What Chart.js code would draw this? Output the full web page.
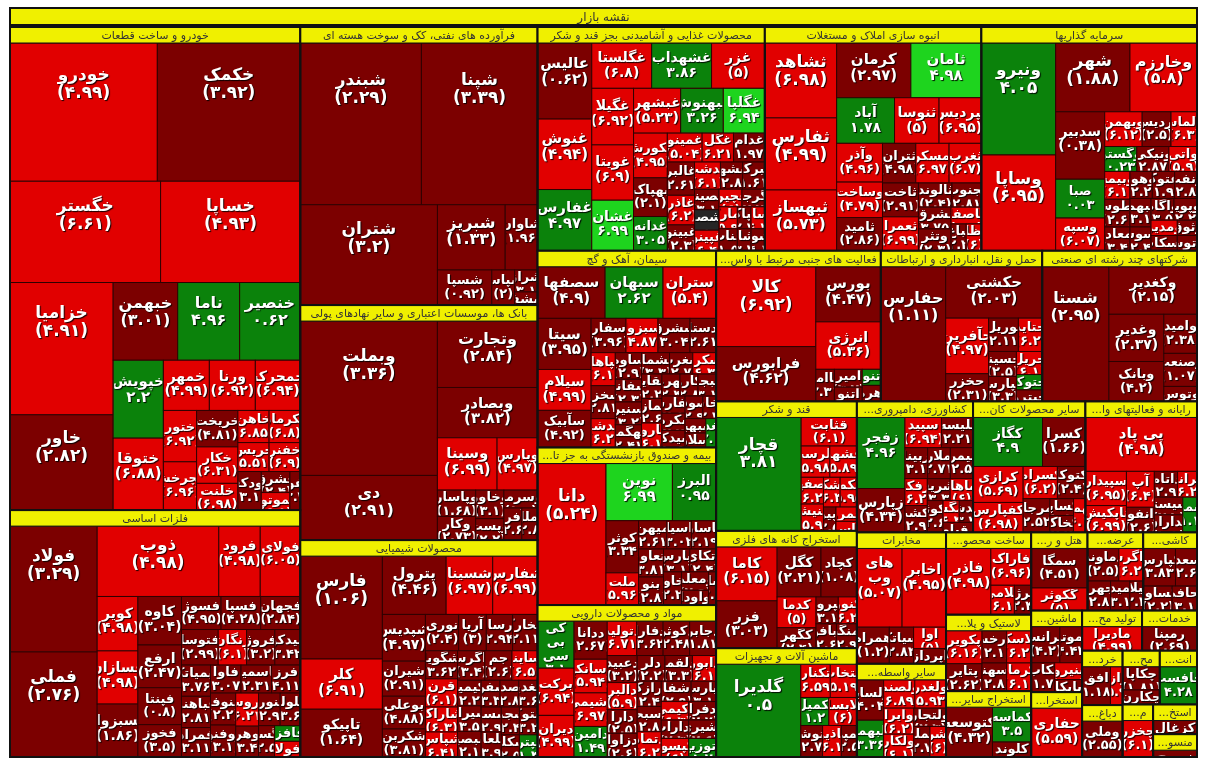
<!DOCTYPE html>
<html lang="fa">
<head>
<meta charset="UTF-8">
<title>نقشه بازار</title>
<script src="https://cdn.jsdelivr.net/npm/chart.js@4.4.1/dist/chart.umd.min.js"></script>
<style>
  body { margin:0; background:#ffffff; }
  #map { display:block; }
</style>
</head>
<body>
<canvas id="map" width="1206" height="764"></canvas>
<script>
// ---- data: [symbol, market value, close change %, (last change % used for colour)] ----
const titleText = 'نقشه بازار';

const autoStocks = [
  ['خودرو',203,-4.99],['خکمک',197,-3.92],['خگستر',152,-6.61],['خساپا',141,-4.93],['خزامیا',136,-4.91],
  ['خاور',98,-2.82],['خبهمن',50,-3.01],['ناما',48,4.96],['خنصیر',47,0.62],['خپویش',39,2.2],['ختوقا',36,-6.88],
  ['خمهر',23,-4.99],['ورنا',23,-6.92],['خمحرکه',22.5,-6.94],['ختور',17,-6.92],['خچرخش',16,-6.96],['خریخت',15,-4.81,-1.5],
  ['خکار',15,-6.31],['خلنت',11,-6.98],['خاهن',10,-6.85],['خکرمان',10,-6.8],['خریس',9,-5.51],['خفنر',9,-6.9],
  ['خودکفا',9,-3.1],['خشرق',6,-2.4],['خموتور',5,-6.5],['خفولا',4,-3.3]
];
const metalStocks = [
  ['فولاد',109,-3.29],['فملی',91,-2.76],['ذوب',85,-4.98],['فرود',29,-4.98],['فولای',28,-6.05],['کویر',22,-4.98],
  ['فسازان',21.5,-4.98],['فسبزوار',21.4,-1.86],['کاوه',21,-3.04],['ارفع',18.5,-2.47],['فپنتا',16,-0.8],['فخوز',14,-3.5],
  ['فسوژ',13,-4.95,-3],['فسپا',13,-4.28],['فجهان',13,-2.84],['فتوسا',13,-2.99],['زنگان',10,-6.1],['فروژ',10,-3.2],
  ['میدکو',9,-3.42],['کیمیاتک',9,-3.76],['فباهنر',9,-2.81],['فمراد',8.5,-3.11],['فآوا',8.5,-3.07],['فاسمین',8.5,-2.31],
  ['فرز',8,-4.11],['فنوفر',8,-2.2],['توفنو',8,-3.1],['فروس',7.5,-6.21],['وهر',7,-3.4],['فنورد',7,-2.9],
  ['فلوله',6.5,-3.6],['فگستر',5,-2.5],['فافزا',4,1.2],['فولا',4,-6.2]
];
const oilStocks = [
  ['شبندر',195,-2.29],['شپنا',187,-3.39],['شتران',137,-3.2],['شبریز',44,-1.33],['شاوان',21,-1.96],
  ['شسپا',19,-0.92],['شپاس',8,-2],['شراز',5,-3.1],['ششفا',3,-2.5]
];
const bankStocks = [
  ['وبملت',210,-3.36],['دی',88,-2.91],['وتجارت',66,-2.84],['وبصادر',50,-3.82],['وسینا',31,-6.99],['وپارس',21,-4.97],
  ['وپاسار',10,-1.68],['وکار',9,-2.73],['وخاور',8,-3.1],['وپست',6,-2.2],['وسرمد',6,-1.9],['وآفری',5.7,-2.6],['وملل',5,-2.8]
];
const chemStocks = [
  ['فارس',84,-1.06],['کلر',41,-6.91],['تاپیکو',39,-1.64],['پترول',37,-4.46],['شسینا',27,-6.97],['شفارس',26,-6.99],
  ['شپدیس',20,-4.97,-3],['شیران',15,-2.91],['بوعلی',14,-4.88],['شکربن',12,-3.81],['نوری',12,-2.4],['آریا',10,-3],
  ['پارسان',9.5,-2.94],['شخارک',9,-2.11],['شگویا',9,-3.62],['قرن',9,-6.1],['شاراک',8,-6.3],['شپاس',8,-6.41],
  ['زاگرس',8,-3.4],['جم',8,-2.6],['ساینا',7.5,-6.5],['کیمیا',6,-2.2],['شیراز',6,-3.5],['شبصیر',6,-2.1],['شفن',5,-3.3],
  ['شصدف',5,-2.8],['شغدیر',5,-3.6],['شسم',5,-2.9],['شلعاب',5,-3.9],['شجم',5,-2.4],['شتوکا',5,-3.2],['شکلر',4,-2.5],['شپترو',4,1.3]
];
const foodStocks = [
  ['عالیس',41,-0.62],['غنوش',38,-4.94],['غفارس',33,4.97],['غگلستا',27,-6.8],['غشهداب',27,3.86],['غزر',24,-5],
  ['غگیلا',23.5,-6.92],['غویتا',23,-6.9],['غشان',21,6.99],['غبشهر',21,-5.23],['غبهنوش',19,3.26],['غگلپا',18.5,6.94],
  ['غکورش',15,-4.95],['بهپاک',13,-2.1],['غدانه',11.5,3.05],['غمینو',10,-5.04],['غگل',9,-6.21],['غدام',9,-1.97],
  ['غالبر',9,-2.61],['غاذر',8,-6.2],['غبینو',7,-2.3],['غدشت',7,-6.1],['وبشهر',6,-2.8],['تبرک',6,-1.61],['غصینو',5,-3.1],
  ['غشصفا',5,0],['غپینو',5,-6.4],['غچین',4,-6],['غگرجی',4,-2.2],['غمارگ',4,-5.9],['غناب',4,-1.5],['غپاک',3,-2.7],
  ['غسالم',3,-6.2],['غشاذر',3,-3.3],['غشوکو',3,-4.1]
];
const anboohStocks = [
  ['ثشاهد',53,-6.98],['ثفارس',51,-4.99],['ثبهساز',43,-5.73],['کرمان',40,-2.97],['ثامان',38,4.98,6],['آباد',26,1.78],
  ['ثنوسا',20,-5],['ثپردیس',19,-6.95],['وآذر',17.5,-4.96],['وساخت',16,-4.79,-5],['ثامید',15,-2.86],['ثتران',13,-4.98,-3.5],
  ['ثمسکن',13,-6.97],['ثغرب',12.6,-6.7],['ثاخت',12,-2.91],['ثعمرا',12,-6.99],['ثالوند',8,-2.4],['ثجنوب',7,-2.81],
  ['ثشرق',7,-3.75],['وتثر',7,-2.3],['ثاصفا',5,-6.1],['ثباغ',4,-2.2],['ثنظام',4,-6]
];
const sarmayeStocks = [
  ['ونیرو',83,4.05],['وساپا',71,-6.95],['شهر',51,-1.88],['وخارزم',46,-5.8],['سدبیر',33,-0.38],['صبا',19,0.03],
  ['وسپه',16,-6.07],['وبهمن',13,-6.12],['پردیس',10,-2.5],['والماس',9,-6.3],['وگستر',8,0.23],['ونیکی',8,-2.87],
  ['واتی',7,-5.9],['وبیمه',7,-6.1],['وطوس',7,-2.6],['ومعادن',6,-3.4],['وهوا',6,-2.2],['اعتوک',6,-1.9],['ونفت',6,-2.8],
  ['وکبهمن',6,-3.1],['وسوس',5,-2.4],['وآگاه',5,-3.5],['وپویا',5,-2.2],['ومدیر',4,-6.2],['وسکاب',4,-2.9],['وثوق',3,-3.7],['وآتوس',3,-2.1]
];
const simanStocks = [
  ['سصفها',35,-4.9,-3],['سبهان',30,2.62],['ستران',27.5,-5.4],['سیتا',27.5,-3.95],['سیلام',22,-4.99],['سآبیک',20,-4.92,-3],
  ['سفار',12,-3.96],['سبزوا',11,-4.87,-5],['سشرق',11,-3.04],['اردستان',9,-2.61],['سپاهان',8,-6.1],['سخزر',8,-2.81],
  ['سدشت',7,-6.2],['ساوه',7,-2.9],['سفانو',6,-2.3],['سنیر',6,-3.2],['سهگمت',6,-2.41],['سشمال',6,-3.3],['سغرب',5,-2.7],
  ['سکرد',5,-6.3],['سقاین',5,-2.2],['سمازن',5,-2.6],['ساروم',5,-6.1],['سهرمز',4,-2.4],['سکارون',4,-2.8],['سبجنو',4,-3.1],
  ['سفارس',4,-2.5],['سکرما',4,-2.2],['سیدکو',4,-3.6],['سصوفی',4,-2.9],['سخاش',3,-2.3],['سبهبه',3,-1.7],['سلار',3,-2.6],['سغدیر',3,2.1]
];
const bimehStocks = [
  ['دانا',97,-5.24],['نوین',38,6.99],['البرز',25,0.95],['کوثر',17,-3.34],['ملت',10.5,-5.96],['میهن',8,-2.61],
  ['آسیا',7,-3.02],['پاسار',7,-2.19],['وتعاون',7,-3.81],['بنو',7,-2.8],['بپارس',6,-3.1],['اتکای',6,-2.4],
  ['بخاور',6,-2.2],['ومعلم',5,-2.9],['وآودا',4,-3.3],['بساما',2.5,-2.5]
];
const darooStocks = [
  ['کی بی سی',17,3.1],['برکت',17,-6.94],['دیران',15,-4.99],['ددانا',12.5,-2.67],['دسانکو',11,-5.94],['دشیمی',11,-6.97],
  ['دامین',10,1.49],['دتولید',10,-6.71],['دفارا',9,-3.62],['دکوثر',9,-2.48],['دجابر',9,-1.81],['دعبید',8,-3.2],
  ['دالبر',8,-5.9],['دارا',7,-2.5],['دزاوا',7,-2.6],['دلر',7,-2.2],['دلقما',7,-3.3],['دابور',6,-6.1],['درازک',6,-2.4],
  ['دسبحا',6,-2.8],['دتماد',6,-6.2],['شفا',6,-2.9],['دپارس',5,-3.1],['دکیمی',5,-6.3],['دفرا',5,-2.7],['دداراب',5,-2.3],
  ['دکپسول',5,-6],['دشیری',5,-2.6],['دتوزیع',5,1.2]
];
const janbiStocks = [
  ['کالا',80,-6.92],['فرابورس',55,-4.62],['بورس',36,-4.47],['انرژی',31,-5.36],['تماامی',6,-2.31],['امیر',5,-3.2],
  ['اتنو',4,-2.1],['تنو',3,1.2],['اهرم',3,-2.6]
];
const hamlStocks = [
  ['حفارس',88,-1.11],['حکشتی',50,-2.03],['حآفرین',24,-4.97],['حخزر',12,-2.31],['توریل',10,-2.11],['حتاید',8,-6.2],
  ['حسینا',7,-2.5],['حپارس',7,-3.3],['حریل',6,-6.1],['حتوکا',4,1.4],['حپترو',3,-2.2]
];
const chandStocks = [
  ['شستا',90,-2.95],['وکغدیر',42,-2.15],['وغدیر',26,-2.37],['وبانک',22,-4.2],['وامید',13,-2.38],['وصنعت',11,-1.07],['وتوس',5,-2.5]
];
const ghandStocks = [
  ['قچار',97,3.81],['قثابت',16,-6.1],['قلرست',9,-5.98],['قشهد',8.5,-5.89],['قصفها',6,-6.2],['قنیشا',6,-5.9],
  ['قشکر',5,-6.3],['قهکمت',5,-5.95],['قپیرا',3,-2.5],['قمرو',3,-6.1],['قاسم',2,-5.9]
];
const keshStocks = [
  ['زفجر',34,4.96],['زپارس',21,-4.34],['سپید',11,-6.94],['تلیسه',9.5,-2.21],['زبینا',7,-3.1],['زملارد',7,-2.71],
  ['سیمرغ',7,-2.5],['زفکا',6,-6.2],['زکشت',6,-2.9],['زشریف',5,-3.3],['زماهان',5,-6],['زکوثر',5,-2.6],
  ['زمگسا',3.5,-6.3],['زگلدشت',3,-3.4],['زقیام',3,-2.2]
];
const kaniStocks = [
  ['کگاز',34,4.9],['کسرا',21,-1.66],['کرازی',18,-5.69],['کفپارس',15,-6.98],['کسرام',11,-6.2],['کتوکا',9,-2.4],
  ['کمرجان',9,-2.52],['کساپا',4,-3.1],['کخاک',4,-2.2],['کهمدا',4,-6.1]
];
const rayanehStocks = [
  ['پی پاد',60,-4.98],['سپیدار',14,-6.95],['تاپکیش',11,-6.99],['آپ',10,-6.4],['رانفور',7,-2.6],['داتام',6,-2.9],
  ['افرانت',5,-6.2],['اسیستم',5,-2.3],['مداران',5,-3.1],['سمدا',5,1.1]
];
const kanehStocks = [
  ['کاما',33,-6.15],['فزر',29,-3.03],['کگل',22,-2.21],['کچاد',18,-1.08],['کدما',12,-5],['کگهر',8,-2.4],
  ['کپرور',6,-3.1],['کنور',5,-6.2],['کبافق',5,-2.6],['کمنگنز',5,-2.9]
];
const mashinStocks = [
  ['گلدیرا',80,0.5],['تکنار',10,-6.59],['انتخاب',9,-5.19],['تکمیل',8,1.2],['لابسا',8,-6],['وتوشه',7,-2.7],['خاذین',6,-6.1],['تپمپی',5,-2.5]
];
const mokhStocks = [['های وب',36,-5.07],['اخابر',35,-4.95],['همراه',12,-1.2],['آسیاتک',9,-2.83],['آوا',7,-5],['اپرداز',5,-2.4]];
const vaseteStocks = [
  ['ولساپا',11,-4.04],['ولبهمن',10,3.36],['ولصنم',9,-6.89],['ولغدر',9,-5.93],['وایرا',8,-6.2],['ولکار',7,-6.1],
  ['ولتجار',6,-2.3],['ولملت',5,-2.7],['ولشرق',5,-6]
];
const felezStocks = [['فاذر',30,-4.98],['فاراک',15,-6.96],['فلامی',7,-6.1],['فنرژی',5,-2.4]];
const lastikStocks = [['پکویر',12,-6.16],['پتایر',10,-2.62],['پدرخش',8,-2.1],['پلاسک',8,-6.2],['پسهند',7,-2.8],['پکرمان',7,-6.1]];
const sayerStocks = [['کتوسعه',24,-4.32],['کماسه',14,3.5],['کلوند',6,-2.2]];
const hotelStocks = [['سمگا',22,-4.51],['گکوثر',12.6,-5]];
const arzehStocks = [['دماوند',9,-2.5],['بزاگرس',7,-6.2],['بجهرم',6,-2.8],['بمیدا',5,-3.1],['بگیلان',3.5,-2.2]];
const kashiStocks = [['کپارس',12,-3.83],['کسعدی',8,-2.6],['کساوه',7,-2.2],['کحافظ',6,-3.1]];
const barghiStocks = [['بترانس',9,-4.2],['بموتو',7,-4.43],['بکاب',6,-1.7],['بنیرو',4,-6.1],['بایکا',3,-2.4]];
const naftStocks = [['حفاری',26,-5.59]];
const computerStocks = [['مادیرا',17,-4.99]];
const fanniStocks = [['رمپنا',15,-2.69]];
const forooshStocks = [['افق',14,-1.18],['ورازی',6,-5.9]];
const dabaghiStocks = [['وملی',14.7,-2.55]];
const kaghazStocks = [['چکاپا',8,-1.81],['چکارن',5,-1.8]];
const entesharStocks = [['چافست',18,4.28]];
const choobiStocks = [['چخزر',10,-6.1]];
const zoghalStocks = [['کزغال',9,-2.4]];
const nassajiStocks = [['نبروج',5,-2.2]];

const sectorNames = [
  'خودرو و ساخت قطعات','فلزات اساسی','فرآورده های نفتی، کک و سوخت هسته ای','بانک ها، موسسات اعتباری و سایر نهادهای پولی',
  'محصولات شیمیایی','محصولات غذایی و آشامیدنی بجز قند و شکر','انبوه سازی املاک و مستغلات','سرمایه گذاریها',
  'سیمان، آهک و گچ','بیمه و صندوق بازنشستگی به جز تامین اجتماعی','مواد و محصولات دارویی',
  'فعالیت های جنبی مرتبط با واسطه گری های مالی','حمل و نقل، انبارداری و ارتباطات','شرکتهای چند رشته ای صنعتی',
  'قند و شکر','استخراج کانه های فلزی','ماشین آلات و تجهیزات','کشاورزی، دامپروری و خدمات وابسته به آن',
  'سایر محصولات کانی غیرفلزی','رایانه و فعالیتهای وابسته به آن','مخابرات','سایر واسطه گریهای مالی',
  'ساخت محصولات فلزی','لاستیک و پلاستیک','استخراج سایر معادن','هتل و رستوران','عرضه برق، گاز، بخار و آب گرم',
  'کاشی و سرامیک','ماشین آلات و دستگاههای برقی','استخراج نفت گاز و خدمات جنبی جز اکتشاف',
  'تولید محصولات کامپیوتری الکترونیکی و نوری','خدمات فنی و مهندسی','خرده فروشی، باستثنای وسایل نقلیه موتوری',
  'دباغی، پرداخت چرم و ساخت انواع پاپوش','محصولات کاغذی','انتشار، چاپ و تکثیر','محصولات چوبی','استخراج ذغال سنگ','منسوجات'
];
const sectorValues = [
  140.1,71.6,65.9,55.7,51.4,50.8,48.4,48.2,35.1,28.1,27.1,24.8,24.3,23.3,18.2,16.5,15.3,15.2,14.7,14.6,
  11.7,8.3,7.0,6.5,5.6,4.4,4.35,4.2,4.15,3.3,2.4,2.2,2.2,2.1,2.0,2.0,1.6,1.3,1.0
];
const sectorStocks = [
  autoStocks,metalStocks,oilStocks,bankStocks,chemStocks,foodStocks,anboohStocks,sarmayeStocks,simanStocks,
  bimehStocks,darooStocks,janbiStocks,hamlStocks,chandStocks,ghandStocks,kanehStocks,mashinStocks,keshStocks,
  kaniStocks,rayanehStocks,mokhStocks,vaseteStocks,felezStocks,lastikStocks,sayerStocks,hotelStocks,arzehStocks,
  kashiStocks,barghiStocks,naftStocks,computerStocks,fanniStocks,forooshStocks,dabaghiStocks,kaghazStocks,
  entesharStocks,choobiStocks,zoghalStocks,nassajiStocks
];

// ---- squarified treemap in scale units ----
const MAP_W = 1187, MAP_H = 749, TITLE_H = 17, HEAD_H = 16;

function worst(row, side) {
  let s = 0, mx = -Infinity, mn = Infinity;
  row.forEach(a => { s += a; mx = Math.max(mx, a); mn = Math.min(mn, a); });
  return Math.max(side * side * mx / (s * s), (s * s) / (side * side * mn));
}
function squarify(values, x, y, w, h) {
  const total = values.reduce((a, b) => a + b, 0);
  const areas = values.map(v => v * w * h / total);
  const out = [];
  let i = 0;
  while (i < areas.length) {
    const side = Math.min(w, h);
    let row = [areas[i]], j = i + 1;
    while (j < areas.length) {
      const next = row.concat(areas[j]);
      if (worst(next, side) > worst(row, side)) break;
      row = next; j++;
    }
    const s = row.reduce((a, b) => a + b, 0);
    if (w >= h) {
      const cw = s / h; let yy = y;
      row.forEach(a => { out.push({x: x, y: yy, w: cw, h: a / cw}); yy += a / cw; });
      x += cw; w -= cw;
    } else {
      const rh = s / w; let xx = x;
      row.forEach(a => { out.push({x: xx, y: y, w: a / rh, h: rh}); xx += a / rh; });
      y += rh; h -= rh;
    }
    i = j;
  }
  return out;
}
function sortedIdx(vals) {
  return vals.map((v, i) => i).sort((a, b) => vals[b] - vals[a]);
}

const sectors = [];
const cells = [];
const secOrder = sortedIdx(sectorValues);
const secRects = squarify(secOrder.map(i => sectorValues[i]), 0, TITLE_H + 2, MAP_W, MAP_H - TITLE_H - 2);
secOrder.forEach((si, k) => {
  const r = secRects[k];
  sectors.push({name: sectorNames[si], ...r});
  const list = sectorStocks[si];
  const ch = r.h - HEAD_H;
  if (ch < 3) return;
  const ord = sortedIdx(list.map(s => s[1]));
  const rects = squarify(ord.map(i => list[i][1]), r.x, r.y + HEAD_H, r.w, ch);
  ord.forEach((ii, m) => {
    const s = list[ii];
    cells.push({name: s[0], chg: s[2], tone: s.length > 3 ? s[3] : s[2], ...rects[m]});
  });
});

function cellColor(v) {
  if (v === 0) return '#262626';
  if (v >= 5.5) return '#1ed41e';
  if (v > 0) return '#0b820b';
  if (v <= -4.9) return '#e10000';
  return '#7c0000';
}
const faDigits = s => s.replace(/[0-9]/g, d => '۰۱۲۳۴۵۶۷۸۹'[d]);
const chgText = v => v < 0 ? '(' + faDigits(String(-v)) + ')' : faDigits(String(v));

function fitText(ctx, txt, maxW) {
  if (ctx.measureText(txt).width <= maxW) return txt;
  let t = txt;
  while (t.length > 1 && ctx.measureText(t + '...').width > maxW) t = t.slice(0, -1);
  return t.trim() + '...';
}

const treemapPlugin = {
  id: 'treemapCells',
  afterDatasetsDraw(chart) {
    const ctx = chart.ctx;
    const xs = chart.scales.x, ys = chart.scales.y;
    const box = r => {
      const x0 = xs.getPixelForValue(r.x), x1 = xs.getPixelForValue(r.x + r.w);
      const y0 = ys.getPixelForValue(r.y), y1 = ys.getPixelForValue(r.y + r.h);
      return {x: x0, y: y0, w: x1 - x0, h: y1 - y0};
    };
    ctx.save();
    const FONT = '"DejaVu Sans", Tahoma, sans-serif';

    // title bar
    const t = box({x: 0, y: 0, w: MAP_W, h: TITLE_H});
    ctx.fillStyle = '#f0f000';
    ctx.fillRect(t.x, t.y, t.w, t.h);
    ctx.strokeStyle = '#111'; ctx.lineWidth = 2;
    ctx.strokeRect(t.x, t.y, t.w, t.h);
    ctx.fillStyle = '#333'; ctx.font = '12px ' + FONT;
    ctx.textAlign = 'center'; ctx.textBaseline = 'middle'; ctx.direction = 'rtl';
    ctx.fillText(titleText, t.x + t.w / 2, t.y + t.h / 2 + 1);

    // cells
    cells.forEach(c => {
      const b = box(c);
      ctx.fillStyle = cellColor(c.tone);
      ctx.fillRect(b.x, b.y, b.w, b.h);
      ctx.strokeStyle = '#300000'; ctx.lineWidth = 1;
      ctx.strokeRect(b.x, b.y, b.w, b.h);

      ctx.save();
      ctx.beginPath(); ctx.rect(b.x + 1, b.y + 1, b.w - 2, b.h - 2); ctx.clip();
      const fs = Math.max(13, Math.min(17, Math.round(9 + Math.min(b.w, b.h) / 9)));
      ctx.font = 'bold ' + fs + 'px ' + FONT;
      ctx.textAlign = 'center'; ctx.textBaseline = 'middle';
      ctx.shadowColor = 'rgba(0,0,0,0.9)'; ctx.shadowOffsetX = 1; ctx.shadowOffsetY = 1; ctx.shadowBlur = 1;
      ctx.fillStyle = '#ffffff';
      let lines = [c.name];
      ctx.direction = 'rtl';
      if (c.name.indexOf(' ') > 0 && ctx.measureText(c.name).width > b.w - 2) lines = c.name.split(' ');
      lines.push(chgText(c.chg));
      const lh = fs * 1.05;
      const blockC = b.y + Math.min(b.h / 2, 14 + b.h * 0.2);
      let y = Math.max(b.y + fs * 0.6, blockC - lh * (lines.length - 1) / 2);
      const cx = b.x + b.w / 2;
      lines.forEach((ln, k) => {
        ctx.direction = k === lines.length - 1 ? 'ltr' : 'rtl';
        ctx.fillText(ln, cx, y);
        y += lh;
      });
      ctx.restore();
    });

    // sector frames and headers
    sectors.forEach(s => {
      const b = box(s);
      const hb = box({x: s.x, y: s.y, w: s.w, h: Math.min(HEAD_H, s.h)});
      ctx.fillStyle = '#f0f000';
      ctx.fillRect(hb.x, hb.y, hb.w, hb.h);
      ctx.strokeStyle = '#111'; ctx.lineWidth = 1;
      ctx.strokeRect(hb.x, hb.y, hb.w, hb.h);
      ctx.save();
      ctx.beginPath(); ctx.rect(hb.x, hb.y, hb.w, hb.h); ctx.clip();
      ctx.fillStyle = '#333'; ctx.font = '11px ' + FONT;
      ctx.textAlign = 'center'; ctx.textBaseline = 'middle'; ctx.direction = 'rtl';
      ctx.fillText(fitText(ctx, s.name, hb.w - 8), hb.x + hb.w / 2, hb.y + hb.h / 2 + 1);
      ctx.restore();
      ctx.strokeStyle = '#111'; ctx.lineWidth = 2;
      ctx.strokeRect(b.x, b.y, b.w, b.h);
    });

    const all = box({x: 0, y: 0, w: MAP_W, h: MAP_H});
    ctx.strokeStyle = '#111'; ctx.lineWidth = 2;
    ctx.strokeRect(all.x, all.y, all.w, all.h);
    ctx.restore();
  }
};

new Chart(document.getElementById('map'), {
  type: 'scatter',
  data: {
    datasets: [{
      data: cells.map(c => ({x: c.x + c.w / 2, y: c.y + c.h / 2})),
      pointRadius: 0
    }]
  },
  options: {
    responsive: false,
    animation: false,
    layout: {padding: {left: 10, top: 8, right: 9, bottom: 7}},
    scales: {
      x: {type: 'linear', min: 0, max: MAP_W, display: false},
      y: {type: 'linear', min: 0, max: MAP_H, reverse: true, display: false}
    },
    plugins: {legend: {display: false}, tooltip: {enabled: false}}
  },
  plugins: [treemapPlugin]
});
</script>
</body>
</html>
